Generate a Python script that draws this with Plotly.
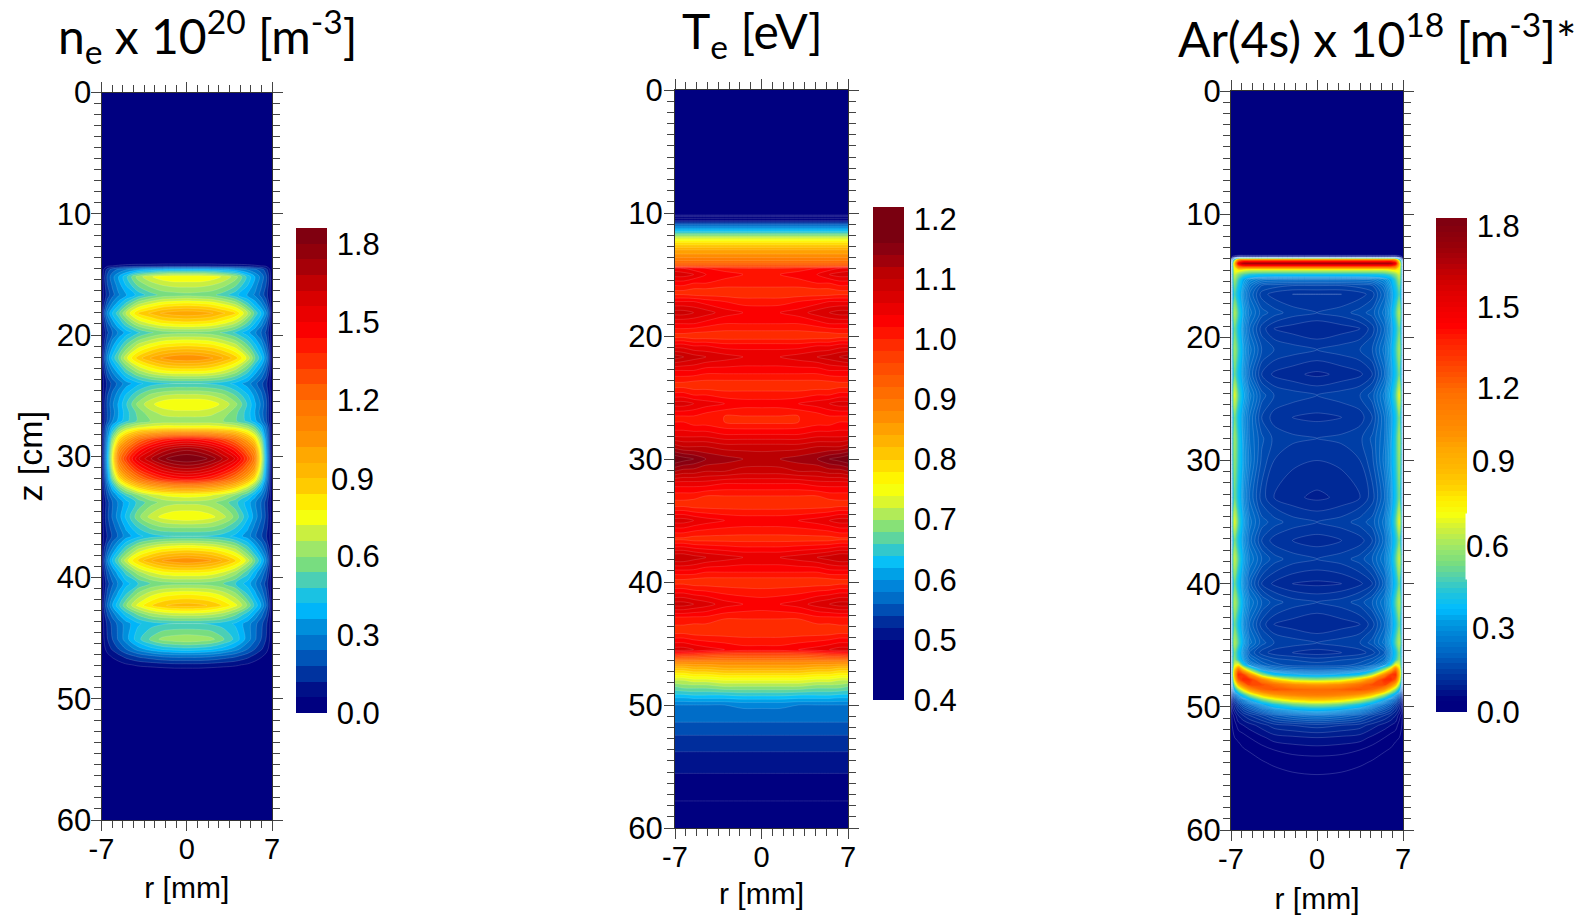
import plotly.graph_objects as go

# ---------- electron density ne (half profile, r = 0 ... 7 mm) ----------
NE_R = [0, 1, 2, 3, 4, 5, 5.6, 6.1, 6.5, 6.8, 7]
NE_Z = [0, 13.9, 14.3, 14.6, 15.2, 15.9, 16.7, 17.4, 18.2, 19, 19.8, 20.9, 21.9, 23, 24, 25, 25.7, 26.4, 27.1, 27.6,
        28.6, 29.4, 30.2, 31.1, 31.9, 32.6, 33.2, 33.8, 35, 35.9, 36.6, 37.6, 38.6, 39.6, 40.5, 41.4, 42.3, 43, 43.8,
        45.1, 45.9, 46.5, 47.2, 47.9, 60]
NE_VALUES = [
    [0, 0, 0, 0, 0, 0, 0, 0, 0, 0, 0],
    [0, 0, 0, 0, 0, 0, 0, 0, 0, 0, 0],
    [.10, .10, .10, .09, .09, .08, .07, .06, .05, .02, 0],
    [.40, .40, .39, .37, .34, .29, .25, .21, .15, .07, 0],
    [.78, .78, .76, .71, .63, .46, .36, .28, .20, .10, 0],
    [.68, .68, .66, .62, .55, .42, .33, .25, .18, .09, 0],
    [.58, .57, .56, .51, .44, .35, .29, .22, .15, .08, 0],
    [.79, .78, .76, .71, .64, .49, .39, .31, .22, .11, 0],
    [1.01, 1.00, .97, .91, .84, .66, .52, .42, .32, .17, 0],
    [.82, .81, .79, .74, .67, .53, .42, .33, .23, .12, 0],
    [.58, .58, .57, .53, .47, .38, .31, .24, .17, .09, 0],
    [.84, .83, .81, .76, .69, .55, .44, .35, .24, .12, 0],
    [1.08, 1.07, 1.03, .96, .87, .70, .55, .44, .32, .16, 0],
    [.78, .78, .76, .71, .63, .50, .39, .31, .22, .11, 0],
    [.48, .48, .47, .45, .40, .33, .26, .20, .14, .07, 0],
    [.68, .68, .66, .62, .54, .43, .34, .26, .18, .09, 0],
    [.78, .78, .76, .70, .62, .47, .37, .29, .20, .10, 0],
    [.70, .70, .68, .64, .56, .45, .36, .27, .19, .10, 0],
    [.62, .62, .62, .60, .55, .46, .38, .30, .20, .10, 0],
    [.76, .76, .76, .74, .71, .63, .53, .40, .27, .13, 0],
    [1.45, 1.43, 1.38, 1.30, 1.18, .98, .82, .60, .34, .15, 0],
    [1.72, 1.69, 1.63, 1.53, 1.40, 1.20, 1.04, .70, .38, .16, 0],
    [1.86, 1.84, 1.78, 1.67, 1.55, 1.32, 1.15, .75, .40, .17, 0],
    [1.66, 1.64, 1.58, 1.49, 1.37, 1.17, 1.00, .68, .37, .16, 0],
    [1.44, 1.42, 1.37, 1.28, 1.15, .95, .78, .56, .32, .14, 0],
    [1.05, 1.04, 1.00, .94, .84, .68, .55, .40, .25, .12, 0],
    [.76, .75, .73, .68, .60, .49, .39, .30, .20, .10, 0],
    [.64, .64, .62, .57, .50, .39, .31, .24, .16, .08, 0],
    [.78, .77, .74, .68, .58, .43, .33, .25, .17, .09, 0],
    [.60, .60, .59, .55, .48, .37, .28, .21, .15, .08, 0],
    [.48, .48, .47, .45, .40, .33, .25, .19, .13, .07, 0],
    [.80, .79, .77, .72, .65, .51, .40, .30, .21, .11, 0],
    [1.08, 1.06, 1.02, .95, .86, .69, .55, .43, .30, .15, 0],
    [.78, .78, .76, .71, .63, .50, .39, .30, .21, .11, 0],
    [.58, .58, .57, .54, .48, .39, .31, .23, .16, .08, 0],
    [.78, .77, .75, .70, .62, .48, .38, .29, .20, .10, 0],
    [.93, .92, .89, .83, .74, .59, .46, .36, .25, .13, 0],
    [.70, .70, .68, .64, .56, .45, .36, .27, .19, .10, 0],
    [.48, .48, .47, .45, .41, .33, .26, .20, .14, .07, 0],
    [.65, .64, .62, .55, .46, .33, .25, .18, .12, .06, 0],
    [.46, .45, .43, .39, .33, .24, .18, .13, .09, .04, 0],
    [.26, .26, .25, .22, .19, .14, .10, .07, .04, 0, 0],
    [.10, .10, .09, .08, .07, .05, .03, .01, 0, 0, 0],
    [0, 0, 0, 0, 0, 0, 0, 0, 0, 0, 0],
    [0, 0, 0, 0, 0, 0, 0, 0, 0, 0, 0],
]

# ---------- electron temperature Te ----------
TE_R = [0, 1.5, 3, 4.5, 5.5, 6.3, 7]
TE_Z = [0, 10.1, 10.3, 10.6, 11, 11.5, 12, 12.4, 13, 13.5, 14, 14.3, 14.5, 15, 15.7, 16.5, 17.2, 18.1, 19, 20, 20.8,
        21.7, 22.8, 24, 24.8, 25.5, 26.5, 27, 28, 29, 30, 31, 32, 33, 33.7, 35, 36.5, 38, 39.2, 40, 41.8, 43, 44, 45.5,
        46, 46.5, 47, 47.5, 48, 48.5, 49.2, 50, 51.4, 53, 55, 57.8, 60]
TE_VALUES = [
    [.40, .40, .40, .40, .40, .40, .40],
    [.40, .40, .40, .40, .40, .40, .40],
    [.46, .46, .46, .46, .46, .46, .46],
    [.50, .50, .50, .50, .50, .50, .50],
    [.57, .57, .57, .57, .57, .57, .57],
    [.64, .64, .64, .64, .64, .64, .64],
    [.72, .72, .72, .72, .72, .72, .72],
    [.78, .78, .78, .78, .78, .78, .78],
    [.84, .84, .84, .84, .84, .84, .84],
    [.87, .87, .87, .87, .87, .87, .87],
    [.91, .91, .91, .91, .91, .91, .91],
    [.95, .95, .95, .95, .95, .95, .95],
    [1.00, 1.00, 1.01, 1.02, 1.03, 1.04, 1.05],
    [1.02, 1.02, 1.03, 1.04, 1.06, 1.07, 1.07],
    [1.01, 1.01, 1.01, 1.02, 1.02, 1.03, 1.03],
    [.985, .985, .985, .985, .985, .99, .99],
    [1.01, 1.01, 1.02, 1.03, 1.04, 1.04, 1.04],
    [1.035, 1.04, 1.05, 1.07, 1.08, 1.09, 1.09],
    [1.02, 1.02, 1.02, 1.03, 1.04, 1.04, 1.04],
    [.985, .985, .985, .985, .985, .99, .99],
    [1.03, 1.03, 1.03, 1.04, 1.04, 1.05, 1.05],
    [1.06, 1.06, 1.07, 1.08, 1.09, 1.10, 1.11],
    [1.03, 1.03, 1.03, 1.03, 1.04, 1.04, 1.04],
    [.985, .985, .985, .985, .985, .99, .99],
    [1.01, 1.01, 1.01, 1.02, 1.02, 1.03, 1.03],
    [1.03, 1.03, 1.04, 1.05, 1.06, 1.07, 1.07],
    [1.00, 1.00, 1.00, 1.01, 1.02, 1.02, 1.02],
    [.995, .995, 1.00, 1.01, 1.01, 1.02, 1.02],
    [1.04, 1.04, 1.04, 1.05, 1.05, 1.05, 1.05],
    [1.09, 1.09, 1.09, 1.10, 1.10, 1.10, 1.11],
    [1.115, 1.12, 1.13, 1.14, 1.16, 1.17, 1.18],
    [1.09, 1.09, 1.10, 1.10, 1.11, 1.11, 1.12],
    [1.04, 1.04, 1.04, 1.05, 1.05, 1.05, 1.05],
    [1.00, 1.00, 1.00, 1.00, 1.01, 1.01, 1.01],
    [.985, .985, .985, .985, .985, .99, .99],
    [1.035, 1.035, 1.04, 1.05, 1.06, 1.07, 1.07],
    [.99, .99, .99, .99, .99, .995, .995],
    [1.06, 1.06, 1.07, 1.08, 1.09, 1.10, 1.10],
    [1.02, 1.02, 1.02, 1.02, 1.03, 1.03, 1.03],
    [.985, .985, .985, .985, .985, .99, .99],
    [1.035, 1.04, 1.05, 1.07, 1.08, 1.09, 1.09],
    [1.00, 1.00, 1.00, 1.01, 1.01, 1.01, 1.01],
    [.985, .985, .985, .985, .985, .99, .99],
    [1.03, 1.03, 1.04, 1.05, 1.06, 1.07, 1.07],
    [.95, .95, .95, .96, .97, .97, .98],
    [.88, .88, .88, .88, .88, .88, .88],
    [.84, .84, .84, .83, .83, .82, .82],
    [.79, .79, .79, .78, .78, .77, .77],
    [.74, .74, .74, .73, .73, .72, .72],
    [.70, .70, .70, .69, .69, .69, .68],
    [.645, .645, .64, .64, .64, .635, .635],
    [.585, .585, .58, .58, .58, .58, .58],
    [.56, .56, .56, .56, .56, .56, .56],
    [.53, .53, .53, .53, .53, .53, .53],
    [.505, .505, .505, .505, .505, .505, .505],
    [.48, .48, .48, .48, .48, .48, .48],
    [.47, .47, .47, .47, .47, .47, .47],
]

# ---------- Ar(4s) metastable density ----------
AR_R = [0, 2, 3.5, 4.5, 5.5, 6, 6.4, 6.7, 6.9, 7]
AR_Z = [0, 13.3, 13.5, 13.75, 14, 14.25, 14.5, 14.9, 15.3, 15.8, 16.5, 18, 19.3, 21, 23, 24.7, 26.5, 28.2, 30, 33, 35,
        36.5, 38, 40, 41.5, 43.3, 44.8, 45.6, 46.2, 46.6, 47, 47.4, 47.8, 48.2, 48.6, 49, 49.4, 49.8, 50.2, 50.7,
        51.5, 52.5, 53.5, 54.5, 55.5, 56, 60]
AR_VALUES = [
    [0, 0, 0, 0, 0, 0, 0, 0, 0, 0],
    [0, 0, 0, 0, 0, 0, 0, 0, 0, 0],
    [.10, .10, .10, .10, .10, .10, .10, .06, .03, 0],
    [1.20, 1.20, 1.20, 1.20, 1.20, 1.20, 1.10, .60, .25, 0],
    [1.72, 1.72, 1.72, 1.72, 1.72, 1.70, 1.50, .85, .40, 0],
    [1.25, 1.25, 1.25, 1.25, 1.25, 1.25, 1.15, .80, .40, 0],
    [.72, .72, .72, .72, .72, .76, .80, .75, .40, 0],
    [.42, .42, .42, .43, .45, .50, .58, .68, .40, 0],
    [.24, .24, .24, .25, .30, .36, .48, .62, .40, 0],
    [.16, .16, .17, .18, .25, .33, .43, .56, .38, 0],
    [.12, .12, .13, .15, .22, .30, .40, .50, .36, 0],
    [.14, .15, .17, .19, .25, .33, .48, .65, .42, 0],
    [.10, .11, .12, .15, .22, .30, .42, .55, .38, 0],
    [.14, .15, .16, .18, .25, .33, .47, .62, .42, 0],
    [.095, .105, .115, .14, .22, .31, .42, .54, .38, 0],
    [.14, .15, .16, .19, .27, .36, .50, .72, .45, 0],
    [.115, .12, .13, .16, .24, .31, .42, .56, .38, 0],
    [.14, .145, .155, .185, .24, .32, .45, .62, .42, 0],
    [.12, .125, .14, .175, .25, .33, .45, .60, .42, 0],
    [.095, .105, .12, .15, .22, .30, .42, .55, .38, 0],
    [.14, .15, .17, .19, .25, .34, .50, .72, .45, 0],
    [.11, .12, .13, .16, .23, .31, .43, .56, .38, 0],
    [.14, .15, .17, .20, .26, .34, .50, .68, .45, 0],
    [.095, .10, .115, .14, .21, .30, .41, .54, .38, 0],
    [.14, .15, .17, .20, .26, .34, .50, .65, .42, 0],
    [.10, .11, .12, .15, .22, .30, .42, .55, .38, 0],
    [.14, .15, .16, .19, .25, .34, .50, .65, .42, 0],
    [.11, .12, .13, .15, .20, .30, .42, .56, .38, 0],
    [.15, .16, .17, .19, .24, .33, .46, .60, .42, 0],
    [.17, .17, .19, .22, .30, .45, .75, .70, .40, 0],
    [.22, .23, .26, .33, .62, .90, 1.18, .85, .42, 0],
    [.33, .36, .42, .62, 1.08, 1.30, 1.35, .90, .42, 0],
    [.60, .66, .85, 1.10, 1.34, 1.36, 1.22, .80, .38, 0],
    [1.00, 1.06, 1.18, 1.26, 1.28, 1.12, .90, .60, .30, 0],
    [1.20, 1.22, 1.25, 1.20, 1.00, .78, .58, .40, .22, 0],
    [1.14, 1.10, 1.02, .88, .62, .46, .34, .24, .14, 0],
    [.90, .84, .70, .55, .36, .28, .22, .15, .09, 0],
    [.60, .54, .44, .34, .24, .20, .15, .10, .06, 0],
    [.40, .36, .30, .24, .18, .15, .11, .08, .05, 0],
    [.24, .22, .19, .15, .12, .10, .08, .05, .03, 0],
    [.13, .12, .11, .09, .07, .06, .05, .03, .02, 0],
    [.08, .075, .07, .055, .04, .03, .025, .02, .01, 0],
    [.05, .047, .04, .03, .022, .018, .01, .005, 0, 0],
    [.03, .028, .024, .018, .01, .005, 0, 0, 0, 0],
    [.02, .018, .012, .006, 0, 0, 0, 0, 0, 0],
    [0, 0, 0, 0, 0, 0, 0, 0, 0, 0],
    [0, 0, 0, 0, 0, 0, 0, 0, 0, 0],
]

NE_TICKS = [0.0, 0.3, 0.6, 1.2, 1.5, 1.8]
TE_TICKS = [0.4, 0.5, 0.6, 0.7, 0.8, 0.9, 1.0, 1.1, 1.2]
AR_TICKS = [0.0, 1.2, 1.5, 1.8]
R_TICKS = [-7, 0, 7]
Z_TICKS = [0, 10, 20, 30, 40, 50, 60]

W, H = 1588, 916
FONT = "Liberation Sans"
JET = [[0, "#000080"], [.02, "#000080"], [.046, "#002090"], [.08, "#0040a8"], [.11, "#0060c0"], [.14, "#0078d0"],
       [.177, "#0098e0"], [.206, "#00bcff"], [.24, "#20c4dc"], [.27, "#50d0b0"], [.30, "#78dd80"], [.335, "#a0e868"],
       [.37, "#cef03c"], [.40, "#f5ff10"], [.43, "#ffee00"], [.46, "#ffd000"], [.49, "#ffbb00"], [.53, "#ffaa00"],
       [.57, "#ff9000"], [.65, "#ff7000"], [.716, "#ff3c00"], [.757, "#ff2000"], [.79, "#ff0000"], [.855, "#e00000"],
       [.887, "#cc0000"], [.92, "#b00008"], [.95, "#9a0008"], [1, "#800010"]]
JET_TE = [[0, "#000080"], [.10, "#000080"], [.122, "#00108a"], [.146, "#002898"], [.17, "#0048b0"], [.195, "#0068c4"],
          [.22, "#0080d8"], [.244, "#0098e0"], [.27, "#00bfff"], [.29, "#20c4dc"], [.317, "#50d0b0"], [.34, "#78dd80"],
          [.366, "#a0e868"], [.39, "#cef03c"], [.415, "#f0ff18"], [.44, "#ffff00"], [.46, "#ffea00"], [.49, "#ffd000"],
          [.51, "#ffbb00"], [.54, "#ffa800"], [.57, "#ff9000"], [.62, "#ff7000"], [.67, "#ff5000"], [.72, "#ff3000"],
          [.77, "#ff0000"], [.84, "#d00000"], [.87, "#c00000"], [.915, "#900010"], [.95, "#7a0010"], [1, "#7a0010"]]

# colour-bar labels that sit off the regular column in the source: text, left edge px, centre px, white backing
OFFSET_LABELS = [("0.9", 330, 479, False), ("0.9", 1471, 461, False), ("0.6", 1465, 546, True), ("0.3", 1471, 628, False)]

panels = [
    dict(r=NE_R, z=NE_Z, v=NE_VALUES, box=(101.5, 272, 92.5, 820), bar=(296, 228, 713), rng=(0, 1.86), step=0.06,
         ticks=NE_TICKS, cs=JET, line="rgba(255,255,255,0.2)", line_end=1.8, off=-7, xoff=-7, rt=13),
    dict(r=TE_R, z=TE_Z, v=TE_VALUES, box=(675, 848, 90, 828), bar=(873, 207, 700), rng=(0.4, 1.22), step=0.02,
         ticks=TE_TICKS, cs=JET_TE, line="rgba(255,255,255,0.18)", line_end=1.2, off=-5, xoff=-7, rt=11),
    dict(r=AR_R, z=AR_Z, v=AR_VALUES, box=(1231, 1403, 91, 830), bar=(1436, 218, 712), rng=(0, 1.83), step=0.02,
         ticks=AR_TICKS, cs=JET, line="rgba(215,230,255,0.28)", line_end=0.34, off=-7, xoff=-7, rt=14),
]

fig = go.Figure()
for i, p in enumerate(panels, start=1):
    x = [-a for a in p["r"][:0:-1]] + p["r"]
    zz = [row[:0:-1] + row for row in p["v"]]
    bx, top, bot = p["bar"]
    lo, hi = p["rng"]
    fig.add_trace(go.Contour(
        x=x, y=p["z"], z=zz, xaxis=f"x{i}", yaxis=f"y{i}", zmin=lo, zmax=hi, zauto=False,
        autocontour=False, colorscale=p["cs"],
        contours=dict(start=lo + p["step"], end=hi - p["step"], size=p["step"], coloring="fill", showlines=False),
        line=dict(width=0, smoothing=0.9),
        colorbar=dict(x=bx / W, xanchor="left", y=1 - bot / H, yanchor="bottom", lenmode="pixels", len=bot - top,
                      thicknessmode="pixels", thickness=31, xpad=0, ypad=0, outlinewidth=0, borderwidth=0,
                      tickmode="array", tickvals=p["ticks"], ticktext=[f"{t:.1f}" for t in p["ticks"]],
                      ticks="outside", ticklen=4, tickcolor="rgba(0,0,0,0)",
                      tickfont=dict(family=FONT, size=31, color="#000")),
    ))
    fig.add_trace(go.Contour(
        x=x, y=p["z"], z=zz, xaxis=f"x{i}", yaxis=f"y{i}", showscale=False, hoverinfo="skip",
        autocontour=False, colorscale=p["cs"],
        contours=dict(start=lo + p["step"], end=p["line_end"], size=p["step"], coloring="none", showlines=True),
        line=dict(color=p["line"], width=0.7, smoothing=0.9),
    ))
    l, rr, t, b = p["box"]
    sfx = "" if i == 1 else str(i)
    fig.layout[f"xaxis{sfx}"] = dict(
        domain=[l / W, rr / W], range=[-7, 7], anchor=f"y{sfx}", tickmode="array", tickvals=R_TICKS,
        ticktext=[str(v) for v in R_TICKS], ticklabelstandoff=p["xoff"],
        ticks="outside", ticklen=10, tickcolor="#444", showgrid=False, zeroline=False, showline=True,
        linecolor="#333", linewidth=1, mirror="allticks",
        tickfont=dict(family=FONT, size=29, color="#000"),
        minor=dict(ticks="outside", ticklen=7, tickcolor="#444", dtick=0.875, tick0=-7, showgrid=False),
        title=dict(text="r [mm]", font=dict(family=FONT, size=30, color="#000"), standoff=p["rt"]),
    )
    fig.layout[f"yaxis{sfx}"] = dict(
        domain=[1 - b / H, 1 - t / H], range=[60, 0], anchor=f"x{sfx}", tickmode="array",
        tickvals=Z_TICKS, ticklabelstandoff=p["off"], ticks="outside", ticklen=10, tickcolor="#444", showgrid=False,
        zeroline=False, showline=True, linecolor="#333", linewidth=1, mirror="allticks",
        tickfont=dict(family=FONT, size=31, color="#000"),
        minor=dict(ticks="outside", ticklen=7, tickcolor="#444", dtick=10 / 11, tick0=0, showgrid=False),
    )

fig.layout.yaxis.title = dict(text="z [cm]", font=dict(family=FONT, size=34, color="#000"), standoff=3)

titles = [("n<sub>e</sub> x 10<sup>20</sup> [m<sup>-3</sup>]", 207, 36),
          ("T<sub>e</sub> [eV]", 752, 34),
          ("Ar(4s) x 10<sup>18</sup> [m<sup>-3</sup>]*", 1377, 35)]
for text, xp, yp in titles:
    fig.add_annotation(text=text, xref="paper", yref="paper", x=xp / W, y=1 - yp / H, xanchor="center",
                       yanchor="middle", showarrow=False, font=dict(family="Lato", size=48, color="#000"))
for text, xp, yp, backed in OFFSET_LABELS:
    fig.add_annotation(text=text, xref="paper", yref="paper", x=xp / W, y=1 - yp / H, xanchor="left",
                       yanchor="middle", showarrow=False, align="left", borderpad=0,
                       bgcolor="white" if backed else None, height=65 if backed else None,
                       font=dict(family=FONT, size=31, color="#000"))

fig.update_layout(width=W, height=H, margin=dict(l=0, r=0, t=0, b=0, autoexpand=False), paper_bgcolor="white",
                  plot_bgcolor="white", showlegend=False)
fig.write_html("out.html", config={"displayModeBar": False},
               post_script="document.body.style.margin='0';document.documentElement.style.overflow='hidden';")
